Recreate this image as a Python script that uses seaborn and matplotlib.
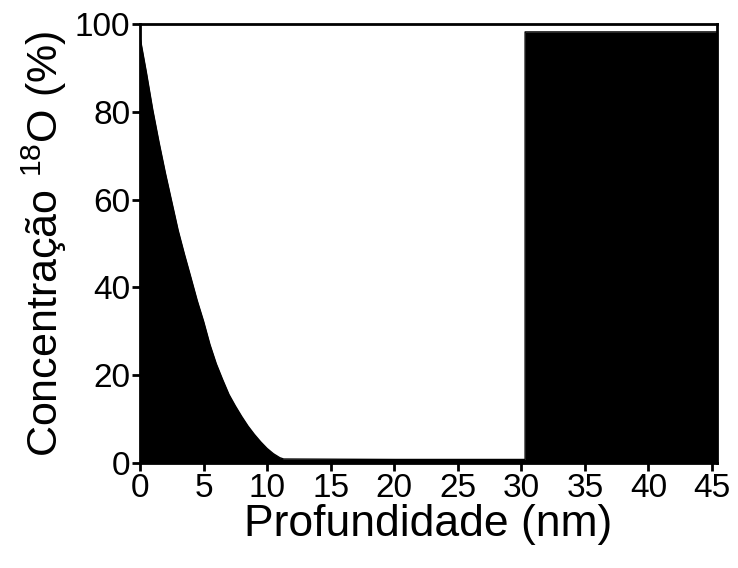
import matplotlib
matplotlib.use("Agg")
import matplotlib.pyplot as plt
import seaborn as sns
import pandas as pd

sns.set_theme(style="ticks")
plt.rcParams['font.family'] = ['Liberation Sans', 'DejaVu Sans']
plt.rcParams['mathtext.fontset'] = 'custom'
plt.rcParams['mathtext.rm'] = 'Liberation Sans'

# profile data (depth nm, concentration %)
depth = [0.0, 0.5, 1.0, 1.5, 2.0, 2.5, 3.0, 3.5, 4.0, 4.5, 5.0, 5.5, 6.0, 6.5,
         7.0, 7.5, 8.0, 8.5, 9.0, 9.5, 10.0, 10.5, 11.0, 11.3, 20.0, 30.3,
         30.3, 38.0, 45.4]
conc = [97.0, 89.0, 80.5, 73.0, 66.0, 59.5, 53.0, 47.5, 42.3, 37.0, 32.3, 27.0,
        22.6, 19.0, 15.6, 13.0, 10.6, 8.4, 6.5, 4.8, 3.3, 2.1, 1.2, 0.9, 0.8, 0.8,
        98.2, 98.2, 98.2]

xticks = [0, 5, 10, 15, 20, 25, 30, 35, 40, 45]
yticks = [0, 20, 40, 60, 80, 100]

df = pd.DataFrame({"depth": depth, "conc": conc})

fig = plt.figure(figsize=(7.38, 5.68), dpi=100)
ax = fig.add_axes([0.1897, 0.1849, 0.9716 - 0.1897, 0.9577 - 0.1849])

sns.lineplot(data=df, x="depth", y="conc", ax=ax, color="black", linewidth=1,
             sort=False, estimator=None)
ax.fill_between(df["depth"], df["conc"], 0, color="black", linewidth=0)

ax.set_xlim(0, 45.4)
ax.set_ylim(0, 100)
ax.set_xticks(xticks)
ax.set_yticks(yticks)
ax.tick_params(direction="out", length=6, width=2, labelsize=24, pad=1, color="black", labelcolor="black")
for s in ax.spines.values():
    s.set_linewidth(2)
    s.set_color("black")

ax.set_xlabel("Profundidade (nm)", fontsize=32, labelpad=0, color="black")
ax.set_ylabel(r"Concentração $^{\mathregular{18}}$O (%)", fontsize=31, labelpad=4, color="black")

fig.savefig("out.png", dpi=100, facecolor="white")
